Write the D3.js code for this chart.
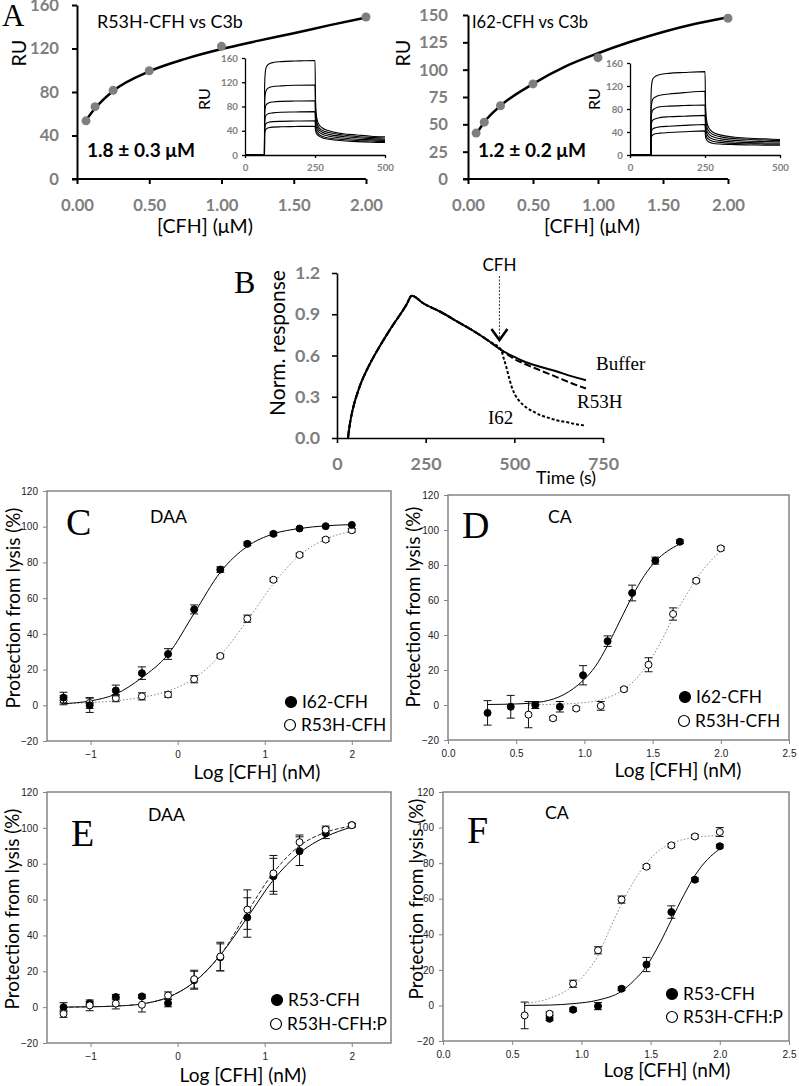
<!DOCTYPE html>
<html><head><meta charset="utf-8">
<script src="https://cdn.jsdelivr.net/npm/d3@7"></script>
<style>body{margin:0;background:#fff} svg{display:block}</style>
</head><body><svg id="c" width="799" height="1086"></svg>
<script>
// ---------------- DATA ----------------
// Panel A: steady-state binding
const aConc = [0.0625, 0.125, 0.25, 0.5, 1.0, 2.0];
const aR53H = [53.5, 66.5, 81.5, 99.5, 122, 149];
const aI62 = [42, 52, 67, 87, 111, 147];
const aFitConc = [0.0625, 0.125, 0.25, 0.5, 0.75, 1.0, 1.25, 1.5, 1.75, 2.0];
const aFitR53H = [54, 65, 81, 99, 110.5, 119.5, 127, 134, 141.5, 148.5];
const aFitI62 = [41, 52, 67, 87, 103, 115, 125.5, 134.5, 142, 148];
const aXTicks = [0, 0.5, 1.0, 1.5, 2.0];
const aLeftYTicks = [0, 40, 80, 120, 160];
const aRightYTicks = [0, 25, 50, 75, 100, 125, 150];
// Insets: sensorgrams
const insetT = [0, 69.5, 70, 72, 76, 85, 100, 130, 180, 250, 252, 256, 262, 275, 300, 350, 400, 450, 500];
const insetR53H = [
  [0, 0, 34, 40, 43, 45, 46, 46.5, 47, 47.5, 40, 35, 32, 28.5, 26, 23.5, 22, 21, 20.5],
  [0, 0, 40, 48, 52, 54, 55, 55.5, 56, 56.5, 45, 39, 35, 31, 28, 25.5, 24, 23, 22],
  [0, 0, 51, 61, 66, 68.5, 69.5, 70.5, 71, 71.5, 52, 44, 39, 34.5, 31, 28, 26, 25, 24],
  [0, 0, 64, 77, 83, 86, 87.5, 88.5, 89, 89.5, 60, 49, 43, 38, 34, 30.5, 28.5, 27, 26],
  [0, 0, 83, 99, 107, 111, 113, 114, 115, 115.5, 72, 55, 47, 41, 37, 33, 30.5, 29, 28],
  [0, 0, 112, 134, 145, 150, 152.5, 154, 155, 156, 90, 62, 52, 45, 40, 35, 33, 31, 30]
];
const insetI62 = [
  [0, 0, 27, 32, 35, 37, 38, 39, 40.5, 42, 31, 26, 23, 20.5, 19, 18, 17.5, 17, 17],
  [0, 0, 35, 42, 45.5, 47.5, 49, 50, 51.5, 53, 38, 31, 27.5, 24, 22, 20, 19.5, 19, 19],
  [0, 0, 47, 56, 60.5, 63, 65, 66.5, 67.5, 69, 46, 37, 32, 28, 25, 22.5, 21.5, 21, 21],
  [0, 0, 60, 72, 78, 81.5, 84, 85, 86, 87, 55, 43, 37, 32, 28.5, 25.5, 24, 23.5, 23],
  [0, 0, 75, 89, 97, 101, 104, 106, 108.5, 111, 66, 50, 42, 36, 32, 28.5, 27, 26, 25],
  [0, 0, 100, 122, 132, 137, 140, 142, 143.5, 145, 85, 58, 48, 40, 35, 31, 29, 28, 27]
];
const insetXTicks = [0, 250, 500];
const insetYTicks = [0, 40, 80, 120, 160];
// Panel B: normalised response
const bRiseT = [31, 35, 40, 48, 58, 70, 85, 100, 120, 140, 160, 180, 196, 211];
const bRiseV = [0, 0.08, 0.155, 0.245, 0.33, 0.415, 0.5, 0.575, 0.665, 0.75, 0.83, 0.905, 0.97, 1.035];
const bDecayT = [243, 290, 337, 384, 431, 463];
const bDecayV = [0.98, 0.92, 0.85, 0.78, 0.70, 0.64];
const bBufferT = [500, 524, 570, 618, 660, 702];
const bBufferV = [0.59, 0.56, 0.52, 0.485, 0.45, 0.42];
const bR53HT = [500, 524, 570, 618, 660, 702];
const bR53HV = [0.575, 0.545, 0.495, 0.445, 0.40, 0.36];
const bI62T = [470, 477, 485, 492, 503, 515, 535, 552, 575, 599, 625, 646, 675, 702];
const bI62V = [0.58, 0.52, 0.44, 0.376, 0.31, 0.267, 0.22, 0.194, 0.165, 0.145, 0.125, 0.116, 0.10, 0.09];
const bXTicks = [0, 250, 500, 750];
const bYTicks = [0, 0.3, 0.6, 0.9, 1.2];
const bInjection = 458;
// Panels C-F: protection from lysis
const lysisYTicks = [-20, 0, 20, 40, 60, 80, 100, 120];
const logTicksCE = [-1, 0, 1, 2];
const logTicksDF = [0, 0.5, 1.0, 1.5, 2.0, 2.5];
const logDAA = [-1.31, -1.01, -0.71, -0.41, -0.11, 0.19, 0.49, 0.80, 1.10, 1.40, 1.70, 2.00];
const cI62 = [4.3, 0, 8.3, 18, 28.7, 53.7, 76, 90.4, 96, 99, 100.3, 101];
const cI62Err = [3, 4, 3, 3.5, 3, 2.5, 1.5, 1, 1, 0.5, 0.5, 0.5];
const cR53H = [2.8, 1.3, 4, 5, 6, 14.6, 27.6, 48.5, 70.3, 84.2, 92.8, 98];
const cR53HErr = [2.5, 3, 2, 2, 1.5, 2, 1, 2, 1, 1, 1, 1];
const cFitI62 = [0.9, 2.4, 6.3, 15.5, 28.5, 51.5, 74.5, 89, 96, 99, 100.5, 101.2];
const cFitR53H = [0.9, 1.5, 2.5, 4.5, 8, 15, 28, 47.5, 68, 84, 93, 97.5];

const dLogI62 = [0.29, 0.46, 0.64, 0.82, 0.99, 1.17, 1.35, 1.52, 1.70];
const dI62 = [-4.5, -1, 0, -1, 17, 36.5, 64, 82.5, 93.3];
const dI62Err = [7, 6.5, 2, 3, 5.5, 3, 4.5, 2, 1];
const dLogR53H = [0.59, 0.77, 0.94, 1.12, 1.29, 1.47, 1.65, 1.82, 2.00];
const dR53H = [-5.5, -7.6, -2, -0.5, 9, 23, 52, 71, 89.5];
const dR53HErr = [7.5, 1, 1, 2.5, 1, 4, 3.5, 1, 1];
const dFitI62X = [0.29, 0.5, 0.7, 0.85, 0.99, 1.08, 1.17, 1.26, 1.35, 1.44, 1.52, 1.61, 1.70];
const dFitI62 = [0.3, 0.6, 2, 6, 14, 22, 34, 48, 62, 74, 82, 88, 92];
const dFitR53HX = [0.59, 0.77, 0.94, 1.12, 1.29, 1.38, 1.47, 1.56, 1.65, 1.74, 1.82, 1.91, 2.00];
const dFitR53H = [0, 0.4, 1, 3, 9, 15, 24, 36, 50, 62, 72, 81, 88];

const eR53 = [0, 2.2, 5.6, 6, 2.2, 15, 27.8, 50, 73, 87, 97, 101.5];
const eR53Err = [2.5, 1, 1.5, 1, 2, 5, 7.5, 11, 10, 8, 3, 1];
const eR53HP = [-3.7, 1, 2, 1.3, 6.5, 15.6, 28.2, 54.4, 74.6, 92, 99, 101.5];
const eR53HPErr = [2, 3, 3, 4, 2, 5, 8, 11, 10, 4, 2, 1];
const eFitR53 = [0, 0.2, 0.6, 1.8, 5.5, 14, 29, 50, 71, 86, 95, 100.5];
const eFitR53HP = [0, 0.2, 0.6, 1.8, 5.5, 14, 29, 53, 75, 90, 97.5, 101];

const fLogR53 = [0.77, 0.94, 1.12, 1.29, 1.47, 1.65, 1.82, 2.00];
const fR53 = [-7.5, -2.4, -0.4, 9.4, 23, 52.5, 70.7, 89.5];
const fR53Err = [1, 1, 2, 1, 4, 3.5, 1, 1];
const fLogR53HP = [0.59, 0.77, 0.94, 1.12, 1.29, 1.47, 1.65, 1.82, 2.00];
const fR53HP = [-5.6, -4.7, 12.2, 31, 59.5, 78, 90, 95, 97.5];
const fR53HPErr = [7.5, 1, 2, 2, 2, 1, 1, 1, 2.5];
const fFitR53X = [0.59, 0.77, 0.94, 1.12, 1.29, 1.38, 1.47, 1.56, 1.65, 1.74, 1.82, 1.91, 2.00];
const fFitR53 = [0, 0.2, 1, 3, 8, 14, 22, 34, 48, 62, 73, 82, 88];
const fFitR53HPX = [0.59, 0.77, 0.94, 1.03, 1.12, 1.20, 1.29, 1.38, 1.47, 1.56, 1.65, 1.82, 2.00];
const fFitR53HP = [1, 4, 11, 18, 28, 42, 57, 70, 80, 87, 91, 94.5, 95.5];

// ---------------- DRAWING ----------------
const svg = d3.select("#c");
const SANS = "Lato, 'Open Sans', sans-serif";
const SERIF = "'Liberation Serif', 'DejaVu Serif', serif";
const ARIAL = "'Liberation Sans', Arial, sans-serif";
const GRAY = "#7f7f7f";

// font size giving a string the pixel width measured in the reference
function fitSize(s, target, family = SANS, weight = null, lo = 6, hi = 40) {
  const t = svg.append("text").attr("font-family", family).attr("font-size", 20)
    .attr("font-weight", weight).text(s);
  const w = t.node().getComputedTextLength();
  t.remove();
  if (!(w > 0)) return 18;
  return Math.max(lo, Math.min(hi, 20 * target / w));
}
const FS_A_TICK = fitSize("0.00", 33, SANS, "bold");
const FS_INSET_TICK = fitSize("160", 17, SANS, "bold");
const FS_B_TICK = fitSize("0.0", 25, SANS, "bold");
const FS_LEGEND = fitSize("R53H-CFH:P", 100);
const FS_LOGT = fitSize("Log [CFH] (nM)", 127);
const FS_PROT = fitSize("Protection from lysis (%)", 201);
const FS_COND = fitSize("DAA", 37);
const FS_KD = fitSize("1.8 \u00b1 0.3 \u03bcM", 108, SANS, "bold");
const FS_CFHUM = fitSize("[CFH] (\u03bcM)", 96);
const FS_RU = fitSize("RU", 27);
const FS_IRU = fitSize("RU", 22);

function txt(g, x, y, s, o = {}) {
  const t = g.append("text").attr("x", x).attr("y", y).text(s)
    .attr("font-family", o.family || SANS).attr("font-size", o.size || 18)
    .attr("fill", o.fill || "#000").attr("text-anchor", o.anchor || "start");
  if (o.weight) t.attr("font-weight", o.weight);
  if (o.rotate) t.attr("transform", `rotate(-90,${x},${y})`);
  return t;
}
function styleAxis(a, o) {
  a.select(".domain").attr("stroke", "#000").attr("stroke-width", o.w);
  a.selectAll(".tick line").attr("stroke", "#000").attr("stroke-width", o.w);
  a.selectAll("text").attr("font-family", SANS).attr("font-weight", "bold")
    .attr("font-size", o.fs).attr("fill", GRAY);
}

// ----- Panel A -----
function panelA(c) {
  const g = svg.append("g");
  const x = d3.scaleLinear().domain([0, 2]).range([c.x0, c.x1]);
  const y = d3.scaleLinear().domain([0, c.ymax]).range([179, c.ytop]);
  const xa = g.append("g").attr("transform", `translate(0,${y(0)})`)
    .call(d3.axisBottom(x).tickValues(aXTicks).tickFormat(d3.format(".2f")).tickSize(5).tickSizeOuter(0).tickPadding(15));
  const ya = g.append("g").attr("transform", `translate(${x(0)},0)`)
    .call(d3.axisLeft(y).tickValues(c.yticks).tickSize(5).tickSizeOuter(0).tickPadding(c.ypad));
  styleAxis(xa, { w: 2, fs: FS_A_TICK }); styleAxis(ya, { w: 2, fs: FS_A_TICK });
  xa.select(".domain").attr("d", `M${x(0) - 5},0H${x(2)}`);
  const line = d3.line().x(d => x(d[0])).y(d => y(d[1])).curve(d3.curveMonotoneX);
  g.append("path").datum(d3.zip(aFitConc, c.fit)).attr("d", line)
    .attr("fill", "none").attr("stroke", "#000").attr("stroke-width", 2.5);
  g.selectAll("circle.pt").data(d3.zip(aConc, c.pts)).join("circle")
    .attr("cx", d => x(d[0])).attr("cy", d => y(d[1])).attr("r", 4.5).attr("fill", GRAY);
  txt(g, c.ruX, 53, "RU", { size: FS_RU, rotate: true, anchor: "middle" });
  txt(g, c.titleX, 28, c.title, { size: fitSize(c.title, c.titleW) });
  txt(g, c.kdX, 157, c.kd, { size: FS_KD, weight: "bold" });
  txt(g, c.axX, 233, "[CFH] (\u03bcM)", { size: FS_CFHUM, anchor: "middle" });
  // inset
  const ix = d3.scaleLinear().domain([0, 500]).range([c.ix0, c.ix1]);
  const iy = d3.scaleLinear().domain([0, 160]).range([155, c.iytop]);
  const ixa = g.append("g").attr("transform", `translate(0,${iy(0)})`)
    .call(d3.axisBottom(ix).tickValues(insetXTicks).tickSize(3).tickSizeOuter(0).tickPadding(6));
  const iya = g.append("g").attr("transform", `translate(${ix(0)},0)`)
    .call(d3.axisLeft(iy).tickValues(insetYTicks).tickSize(3).tickSizeOuter(0).tickPadding(4));
  styleAxis(ixa, { w: 1.3, fs: FS_INSET_TICK }); styleAxis(iya, { w: 1.3, fs: FS_INSET_TICK });
  const il = d3.line().x(d => ix(d[0])).y(d => iy(d[1])).curve(d3.curveMonotoneX);
  c.inset.forEach(v => g.append("path").datum(d3.zip(insetT, v)).attr("d", il)
    .attr("fill", "none").attr("stroke", "#000").attr("stroke-width", 1.1));
  txt(g, c.iruX, 99, "RU", { size: FS_IRU, rotate: true, anchor: "middle" });
}
panelA({ x0: 77, x1: 366, ymax: 160, ytop: 5, yticks: aLeftYTicks, ypad: 13, fit: aFitR53H, pts: aR53H,
  ruX: 26, title: "R53H-CFH vs C3b", titleX: 97, titleW: 146, kd: "1.8 \u00b1 0.3 \u03bcM", kdX: 87, axX: 205,
  ix0: 245, ix1: 385, iytop: 58, inset: insetR53H, iruX: 210 });
panelA({ x0: 468, x1: 728, ymax: 150, ytop: 15, yticks: aRightYTicks, ypad: 15, fit: aFitI62, pts: aI62,
  ruX: 410, title: "I62-CFH vs C3b", titleX: 472, titleW: 116, kd: "1.2 \u00b1 0.2 \u03bcM", kdX: 478, axX: 592,
  ix0: 630, ix1: 780, iytop: 63, inset: insetI62, iruX: 600 });
txt(svg, 2, 26, "A", { family: SERIF, size: 31 });

// ----- Panel B -----
(function () {
  const g = svg.append("g");
  const x = d3.scaleLinear().domain([0, 750]).range([337, 603]);
  const y = d3.scaleLinear().domain([0, 1.2]).range([438, 273]);
  const xa = g.append("g").attr("transform", `translate(0,${y(0)})`)
    .call(d3.axisBottom(x).tickValues(bXTicks).tickSize(5).tickSizeOuter(0).tickPadding(14));
  const ya = g.append("g").attr("transform", `translate(${x(0)},0)`)
    .call(d3.axisLeft(y).tickValues(bYTicks).tickFormat(d3.format(".1f")).tickSize(5).tickSizeOuter(0).tickPadding(12));
  styleAxis(xa, { w: 1.6, fs: FS_B_TICK }); styleAxis(ya, { w: 1.6, fs: FS_B_TICK });
  const line = d3.line().x(d => x(d[0])).y(d => y(d[1])).curve(d3.curveMonotoneX);
  const common = d3.zip(bRiseT.concat(bDecayT), bRiseV.concat(bDecayV));
  const buf = common.concat(d3.zip(bBufferT, bBufferV));
  const r53 = common.concat(d3.zip(bR53HT, bR53HV));
  const i62 = common.concat(d3.zip(bI62T, bI62V));
  g.append("path").datum(i62).attr("d", line).attr("fill", "none").attr("stroke", "#000").attr("stroke-width", 2).attr("stroke-dasharray", "3,2");
  g.append("path").datum(r53).attr("d", line).attr("fill", "none").attr("stroke", "#000").attr("stroke-width", 2).attr("stroke-dasharray", "7,3");
  g.append("path").datum(buf).attr("d", line).attr("fill", "none").attr("stroke", "#000").attr("stroke-width", 2);
  // injection arrow
  const ax = x(bInjection);
  g.append("line").attr("x1", ax).attr("x2", ax).attr("y1", 276).attr("y2", 339)
    .attr("stroke", "#333").attr("stroke-width", 1).attr("stroke-dasharray", "2,1.5");
  g.append("path").attr("d", `M${ax - 8},${329}L${ax},${340}L${ax + 8},${329}`)
    .attr("fill", "none").attr("stroke", "#000").attr("stroke-width", 2.5);
  txt(g, ax, 271, "CFH", { size: fitSize("CFH", 34), anchor: "middle" });
  txt(g, 596, 370, "Buffer", { family: SERIF, size: 19 });
  txt(g, 577, 408, "R53H", { family: SERIF, size: 19 });
  txt(g, 488, 424, "I62", { family: SERIF, size: 19 });
  txt(g, 285, 343, "Norm. response", { size: fitSize("Norm. response", 146), rotate: true, anchor: "middle" });
  txt(g, 566, 484, "Time (s)", { size: fitSize("Time (s)", 60), anchor: "middle" });
  txt(g, 234, 293, "B", { family: SERIF, size: 32 });
})();

// ----- Panels C-F -----
function sigPanel(p) {
  const g = svg.append("g");
  const x = d3.scaleLinear().domain(p.xdom).range([p.left, p.right]);
  const y = d3.scaleLinear().domain([-20, 120]).range([p.bottom, p.top]);
  g.append("rect").attr("x", p.left).attr("y", p.top).attr("width", p.right - p.left).attr("height", p.bottom - p.top)
    .attr("fill", "none").attr("stroke", "#858585").attr("stroke-width", 1.5);
  const xa = g.append("g").attr("transform", `translate(0,${p.bottom})`)
    .call(d3.axisBottom(x).tickValues(p.xticks).tickFormat(p.xfmt).tickSize(4).tickSizeOuter(0).tickPadding(6));
  const ya = g.append("g").attr("transform", `translate(${p.left},0)`)
    .call(d3.axisLeft(y).tickValues(lysisYTicks).tickSize(4).tickSizeOuter(0).tickPadding(5));
  [xa, ya].forEach(a => {
    a.select(".domain").remove();
    a.selectAll(".tick line").attr("stroke", "#858585");
    a.selectAll("text").attr("font-family", ARIAL).attr("font-size", 10).attr("fill", "#222");
  });
  const line = d3.line().x(d => x(d[0])).y(d => y(d[1])).curve(d3.curveMonotoneX);
  p.fits.forEach(f => g.append("path").datum(d3.zip(f.x, f.y)).attr("d", line)
    .attr("fill", "none").attr("stroke", f.color).attr("stroke-width", f.w || 1).attr("stroke-dasharray", f.dash || null));
  p.series.forEach(s => {
    const pts = d3.zip(s.x, s.y, s.e);
    pts.forEach(d => {
      if (d[2] >= 1) {
        const cx = x(d[0]), y1 = y(d[1] - d[2]), y2 = y(d[1] + d[2]);
        g.append("path").attr("d", `M${cx},${y1}V${y2}M${cx - 4},${y1}H${cx + 4}M${cx - 4},${y2}H${cx + 4}`)
          .attr("stroke", "#111").attr("stroke-width", 1).attr("fill", "none");
      }
    });
    g.selectAll(null).data(pts).join("circle")
      .attr("cx", d => x(d[0])).attr("cy", d => y(d[1])).attr("r", 3.5)
      .attr("fill", s.filled ? "#000" : "#fff").attr("stroke", "#000").attr("stroke-width", 1);
  });
  // legend
  p.legend.forEach(l => {
    g.append("circle").attr("cx", l.x).attr("cy", l.y).attr("r", 5.5)
      .attr("fill", l.filled ? "#000" : "#fff").attr("stroke", "#000").attr("stroke-width", 1.2);
    txt(g, l.x + 11, l.y + 0.36 * FS_LEGEND, l.label, { size: FS_LEGEND });
  });
  txt(g, p.letterX, p.letterY, p.letter, { family: SERIF, size: 38 });
  txt(g, p.condX, p.condY, p.cond, { size: FS_COND });
  txt(g, p.xtX, p.xtY, "Log [CFH] (nM)", { size: FS_LOGT, anchor: "middle" });
  txt(g, p.ytX, p.ytY, "Protection from lysis (%)", { size: FS_PROT, rotate: true, anchor: "middle" });
}
const f1 = d3.format("d"), f2 = d3.format(".1f");
sigPanel({ left: 47, right: 391, top: 491, bottom: 741, xdom: [-1.5, 2.45], xticks: logTicksCE, xfmt: f1,
  fits: [{ x: logDAA, y: cFitR53H, color: "#888", dash: "1.5,2" }, { x: logDAA, y: cFitI62, color: "#000" }],
  series: [{ x: logDAA, y: cR53H, e: cR53HErr, filled: false }, { x: logDAA, y: cI62, e: cI62Err, filled: true }],
  legend: [{ x: 291, y: 702, filled: true, label: "I62-CFH" }, { x: 290, y: 725, filled: false, label: "R53H-CFH" }],
  letter: "C", letterX: 66, letterY: 535, cond: "DAA", condX: 150, condY: 523, xtX: 257, xtY: 779, ytX: 20, ytY: 608 });
sigPanel({ left: 448, right: 789, top: 495, bottom: 740, xdom: [0, 2.5], xticks: logTicksDF, xfmt: f2,
  fits: [{ x: dFitR53HX, y: dFitR53H, color: "#888", dash: "1.5,2" }, { x: dFitI62X, y: dFitI62, color: "#000" }],
  series: [{ x: dLogR53H, y: dR53H, e: dR53HErr, filled: false }, { x: dLogI62, y: dI62, e: dI62Err, filled: true }],
  legend: [{ x: 685, y: 697, filled: true, label: "I62-CFH" }, { x: 684, y: 721, filled: false, label: "R53H-CFH" }],
  letter: "D", letterX: 462, letterY: 538, cond: "CA", condX: 548, condY: 523, xtX: 678, xtY: 777, ytX: 420, ytY: 607 });
sigPanel({ left: 47, right: 391, top: 792, bottom: 1043, xdom: [-1.5, 2.45], xticks: logTicksCE, xfmt: f1,
  fits: [{ x: logDAA, y: eFitR53, color: "#000" }, { x: logDAA, y: eFitR53HP, color: "#222", dash: "4,2" }],
  series: [{ x: logDAA, y: eR53, e: eR53Err, filled: true }, { x: logDAA, y: eR53HP, e: eR53HPErr, filled: false }],
  legend: [{ x: 277, y: 1000, filled: true, label: "R53-CFH" }, { x: 276, y: 1024, filled: false, label: "R53H-CFH:P" }],
  letter: "E", letterX: 71, letterY: 846, cond: "DAA", condX: 148, condY: 821, xtX: 243, xtY: 1082, ytX: 19, ytY: 909 });
sigPanel({ left: 443, right: 789, top: 792, bottom: 1041, xdom: [0, 2.5], xticks: logTicksDF, xfmt: f2,
  fits: [{ x: fFitR53HPX, y: fFitR53HP, color: "#888", dash: "1.5,2" }, { x: fFitR53X, y: fFitR53, color: "#000" }],
  series: [{ x: fLogR53, y: fR53, e: fR53Err, filled: true }, { x: fLogR53HP, y: fR53HP, e: fR53HPErr, filled: false }],
  legend: [{ x: 672, y: 994, filled: true, label: "R53-CFH" }, { x: 672, y: 1017, filled: false, label: "R53H-CFH:P" }],
  letter: "F", letterX: 467, letterY: 843, cond: "CA", condX: 545, condY: 819, xtX: 667, xtY: 1077, ytX: 423, ytY: 899 });
</script></body></html>
